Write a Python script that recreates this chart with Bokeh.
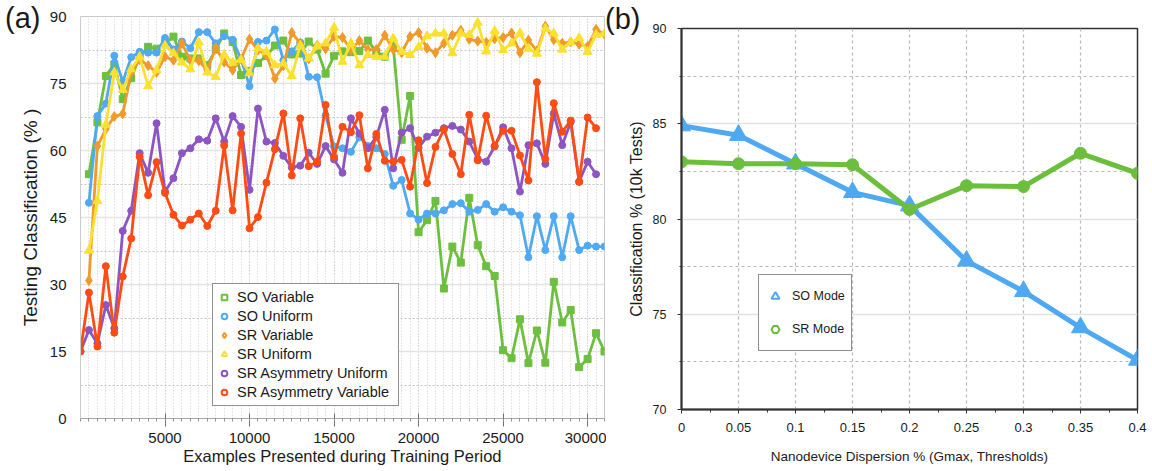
from bokeh.plotting import figure
from bokeh.layouts import row, column
from bokeh.models import Range1d, FixedTicker, Legend, LegendItem, Div
from bokeh.embed import file_html
from bokeh.resources import INLINE

FONT = "Liberation Sans"
TXT = "#1a1a1a"

# ---------------- Panel (a) data ----------------
x_asym = [500 * k for k in range(62)]        # 0 ... 30500
x_main = [500 * k for k in range(1, 63)]     # 500 ... 31000

so_variable = [54.7, 66.3, 76.7, 79.3, 71.5, 76.2, 81.0, 83.2, 82.8, 84.0,
               85.5, 81.0, 80.6, 80.6, 79.1, 82.6, 86.2, 84.3, 76.9, 77.8,
               79.6, 81.2, 83.5, 84.6, 81.5, 81.7, 84.4, 82.6, 77.2, 81.2,
               82.2, 82.0, 82.3, 84.6, 82.1, 81.0, 83.6, 62.4, 72.2, 41.7,
               44.4, 48.7, 29.1, 38.5, 34.9, 49.4, 38.8, 34.1, 31.9, 15.3,
               13.5, 22.2, 12.4, 19.7, 12.5, 30.6, 21.5, 24.3, 11.5, 13.3,
               19.1, 15.0]
so_uniform = [48.3, 67.7, 70.5, 81.2, 75.4, 80.9, 82.1, 81.9, 81.9, 85.2,
              82.6, 84.4, 82.9, 86.5, 86.5, 84.0, 85.6, 84.8, 80.4, 74.4,
              84.3, 84.6, 87.1, 80.2, 82.2, 84.2, 76.5, 76.4, 67.9, 60.9,
              60.5, 59.7, 63.0, 61.0, 60.5, 59.2, 52.1, 53.4, 45.9, 44.5,
              45.9, 45.9, 46.6, 48.0, 48.2, 46.3, 46.7, 48.0, 46.3, 47.3,
              46.3, 45.5, 36.1, 45.3, 37.7, 45.3, 36.1, 45.3, 37.7, 38.7,
              38.5, 38.5]
sr_variable = [30.9, 61.0, 64.8, 67.6, 68.2, 77.5, 80.4, 79.0, 77.5, 81.0,
               80.2, 84.0, 80.2, 80.1, 78.0, 83.0, 79.8, 78.0, 80.5, 84.9,
               82.5, 81.4, 76.1, 79.0, 86.4, 84.0, 80.5, 83.5, 82.8, 85.5,
               85.3, 82.5, 84.6, 82.6, 82.6, 85.8, 82.6, 81.9, 85.5, 86.4,
               82.9, 81.9, 84.0, 85.8, 86.9, 84.9, 84.5, 84.2, 85.0, 85.3,
               86.3, 81.9, 84.7, 82.3, 87.8, 84.8, 84.0, 84.3, 83.8, 83.3,
               87.1, 86.0]
sr_uniform = [37.6, 48.7, 65.8, 77.5, 73.6, 78.2, 81.0, 74.4, 78.0, 83.5,
              81.8, 79.7, 78.2, 84.2, 77.5, 76.5, 81.4, 79.7, 80.3, 77.3,
              82.9, 82.1, 79.1, 79.5, 76.7, 83.5, 80.6, 83.3, 84.0, 87.5,
              79.9, 84.0, 79.1, 81.4, 81.0, 81.0, 85.1, 82.1, 81.4, 83.2,
              85.6, 86.2, 86.2, 81.8, 86.2, 85.9, 88.6, 82.2, 86.8, 82.5,
              84.0, 86.3, 82.8, 81.7, 87.3, 86.2, 82.6, 84.2, 85.2, 82.1,
              85.9, 86.2]
sr_asym_uniform = [15.0, 19.8, 16.8, 25.4, 20.2, 42.0, 46.5, 59.4, 55.0, 66.1,
                   50.8, 53.8, 59.4, 60.5, 62.5, 62.2, 67.2, 62.0, 67.7, 65.3,
                   51.2, 69.4, 62.0, 61.7, 58.8, 56.2, 56.6, 59.5, 57.0, 61.0,
                   58.0, 55.0, 67.2, 63.8, 60.5, 63.0, 69.1, 56.0, 64.0, 65.0,
                   60.6, 63.1, 64.0, 65.0, 65.5, 64.7, 62.0, 58.1, 57.5, 60.9,
                   65.2, 60.5, 50.8, 61.2, 61.6, 57.0, 68.3, 61.2, 66.4, 53.0,
                   57.5, 54.7]
sr_asym_variable = [15.0, 28.2, 16.1, 34.1, 19.2, 31.8, 40.3, 58.6, 50.0, 57.4,
                    50.5, 45.6, 43.2, 44.5, 45.9, 43.1, 46.5, 61.1, 46.6, 63.8,
                    42.6, 45.1, 52.8, 60.3, 68.3, 54.4, 67.2, 56.5, 57.5, 70.2,
                    58.6, 65.3, 64.1, 67.9, 56.0, 63.7, 57.7, 57.5, 57.9, 51.9,
                    62.3, 52.7, 60.8, 64.7, 59.2, 54.7, 68.0, 57.8, 67.8, 61.0,
                    64.4, 64.4, 58.9, 53.3, 75.3, 58.1, 70.6, 64.2, 66.7, 53.0,
                    67.4, 65.0]

a_y_ticks = [0, 15, 30, 45, 60, 75, 90]
a_x_ticks = [5000, 10000, 15000, 20000, 25000, 30000]

# ---------------- Panel (b) data ----------------
dispersion = [0, 0.05, 0.1, 0.15, 0.2, 0.25, 0.3, 0.35, 0.4]
so_mode = [84.9, 84.4, 82.9, 81.4, 80.7, 77.8, 76.2, 74.3, 72.6]
sr_mode = [83.0, 82.9, 82.9, 82.85, 80.5, 81.75, 81.7, 83.45, 82.4]
b_x_labels = ["0", "0.05", "0.1", "0.15", "0.2", "0.25", "0.3", "0.35", "0.4"]
b_y_ticks = [70, 75, 80, 85, 90]

GREEN = "#6dbf3f"
BLUE = "#4fa9f3"
ORANGE = "#f09a2c"
YELLOW = "#fbe12f"
PURPLE = "#8c55c2"
RED = "#ff4b14"


def style_text(ax, tick_size, title_size):
    ax.major_label_text_font = FONT
    ax.major_label_text_font_size = tick_size
    ax.major_label_text_color = TXT
    ax.axis_label_text_font = FONT
    ax.axis_label_text_font_size = title_size
    ax.axis_label_text_font_style = "normal"
    ax.axis_label_text_color = TXT


# ================= Panel (a) =================
p1 = figure(width=606, height=471, x_range=Range1d(0, 31000), y_range=Range1d(0, 90),
            output_backend="svg", toolbar_location=None,
            min_border_left=80, min_border_right=2, min_border_top=16, min_border_bottom=53)
p1.outline_line_color = "#c9c9c9"

xt = FixedTicker(ticks=a_x_ticks, minor_ticks=[500 * k for k in range(63)])
yt = FixedTicker(ticks=a_y_ticks, minor_ticks=[7.5, 22.5, 37.5, 52.5, 67.5, 82.5])
p1.xaxis.ticker = xt
p1.yaxis.ticker = yt
p1.xgrid.ticker = xt
p1.ygrid.ticker = yt

p1.xgrid.grid_line_color = "#cdcdcd"
p1.xgrid.grid_line_dash = "1 2"
p1.xgrid.minor_grid_line_color = "#cdcdcd"
p1.xgrid.minor_grid_line_dash = "1 2"
p1.ygrid.grid_line_color = "#e4e4e4"
p1.ygrid.grid_line_width = 1.5
p1.ygrid.minor_grid_line_color = "#c4c4c4"
p1.ygrid.minor_grid_line_dash = "2 2"

xa = p1.xaxis[0]
xa.axis_label = "Examples Presented during Training Period"
style_text(xa, "15px", "16.5px")
xa.axis_line_color = "#a8a8a8"
xa.major_tick_line_color = "#707070"
xa.minor_tick_line_color = "#909090"
xa.major_tick_in = 5
xa.major_tick_out = 8
xa.minor_tick_in = 0
xa.minor_tick_out = 3
xa.major_label_standoff = 6
xa.axis_label_standoff = 1

ya = p1.yaxis[0]
ya.axis_label = "Testing Classification (% )"
style_text(ya, "15px", "19px")
ya.axis_line_color = "#cccccc"
ya.major_tick_in = 0
ya.major_tick_out = 0
ya.minor_tick_in = 0
ya.minor_tick_out = 0
ya.major_label_standoff = 14
ya.axis_label_standoff = 6

LW = 2.8
series_a = [
    (x_main, so_variable, GREEN, "square", 7),
    (x_main, so_uniform, BLUE, "circle", 7),
    (x_main, sr_variable, ORANGE, "diamond", 10),
    (x_main, sr_uniform, YELLOW, "triangle", 9),
    (x_asym, sr_asym_uniform, PURPLE, "circle", 7),
    (x_asym, sr_asym_variable, RED, "circle", 7),
]
for xs, ys, col, mk, sz in series_a:
    p1.line(xs, ys, line_color=col, line_width=LW)
    p1.scatter(xs, ys, marker=mk, size=sz, fill_color=col, line_color=col)

legend_a_names = ["SO Variable", "SO Uniform", "SR Variable", "SR Uniform",
                  "SR Asymmetry Uniform", "SR Asymmetry Variable"]
items_a = []
for (xs, ys, col, mk, sz), name in zip(series_a, legend_a_names):
    # off-range proxy point: only used for the hollow legend glyph
    d = p1.scatter([-1e7], [-1e7], marker=mk, size=min(sz, 9), fill_color="white",
                   line_color=col, line_width=2)
    items_a.append(LegendItem(label=name, renderers=[d]))
leg_a = Legend(items=items_a, location=(132, 12), orientation="vertical")
leg_a.label_text_font = FONT
leg_a.label_text_font_size = "14.5px"
leg_a.label_text_color = TXT
leg_a.glyph_width = 14
leg_a.glyph_height = 18
leg_a.label_height = 18
leg_a.label_width = 157
leg_a.spacing = 1
leg_a.padding = 4
leg_a.margin = 0
leg_a.label_standoff = 6
leg_a.border_line_color = "#222222"
leg_a.border_line_width = 1
leg_a.background_fill_color = "white"
leg_a.background_fill_alpha = 1
p1.add_layout(leg_a, "center")

# ================= Panel (b) =================
p2 = figure(width=544, height=471, x_range=Range1d(0, 0.4), y_range=Range1d(70, 90),
            output_backend="svg", toolbar_location=None,
            min_border_left=75, min_border_right=13, min_border_top=28, min_border_bottom=62)
p2.outline_line_color = "#333333"
p2.outline_line_width = 1.5

bxt = FixedTicker(ticks=dispersion, minor_ticks=[0.025 * k for k in range(17)])
byt = FixedTicker(ticks=b_y_ticks, minor_ticks=[72.5, 77.5, 82.5, 87.5])
p2.xaxis.ticker = bxt
p2.yaxis.ticker = byt
p2.xgrid.ticker = bxt
p2.ygrid.ticker = byt
p2.xgrid.grid_line_color = "#b8b8b8"
p2.xgrid.grid_line_dash = "3 3"
p2.xgrid.grid_line_width = 1.2
p2.ygrid.grid_line_color = "#e2e2e2"
p2.ygrid.grid_line_width = 1.3
p2.ygrid.minor_grid_line_color = "#b8b8b8"
p2.ygrid.minor_grid_line_dash = "3 3"
p2.ygrid.minor_grid_line_width = 1.2

bxa = p2.xaxis[0]
bxa.axis_label = "Nanodevice Dispersion % (Gmax, Thresholds)"
style_text(bxa, "13px", "13.5px")
bxa.major_label_overrides = {t: s for t, s in zip(dispersion, b_x_labels)}
bxa.axis_line_color = "#333333"
bxa.axis_line_width = 2
bxa.major_tick_line_color = "#333333"
bxa.minor_tick_line_color = "#333333"
bxa.major_tick_in = 0
bxa.major_tick_out = 4
bxa.minor_tick_in = 0
bxa.minor_tick_out = 3
bxa.major_label_standoff = 9
bxa.axis_label_standoff = 14

bya = p2.yaxis[0]
bya.axis_label = "Classification % (10k Tests)"
style_text(bya, "12.5px", "16px")
bya.axis_line_color = "#333333"
bya.axis_line_width = 2
bya.major_tick_line_color = "#333333"
bya.minor_tick_line_color = "#333333"
bya.major_tick_in = 0
bya.major_tick_out = 4
bya.minor_tick_in = 0
bya.minor_tick_out = 2
bya.major_label_standoff = 11
bya.axis_label_standoff = 5

B_BLUE = "#4ea8f2"
B_GREEN = "#6cbe3d"
p2.line(dispersion, so_mode, line_color=B_BLUE, line_width=5)
p2.scatter(dispersion, so_mode, marker="triangle", size=18, fill_color=B_BLUE, line_color=B_BLUE)
p2.line(dispersion, sr_mode, line_color=B_GREEN, line_width=5)
p2.scatter(dispersion, sr_mode, marker="circle", size=12, fill_color=B_GREEN, line_color=B_GREEN)

d1 = p2.scatter([-10], [0], marker="triangle", size=10, fill_color="white", line_color=B_BLUE, line_width=2)
d2 = p2.scatter([-10], [0], marker="hex", size=10, fill_color="white", line_color=B_GREEN, line_width=2)
leg_b = Legend(items=[LegendItem(label="SO Mode", renderers=[d1]),
                      LegendItem(label="SR Mode", renderers=[d2])],
               location=(77, 58), orientation="vertical")
leg_b.label_text_font = FONT
leg_b.label_text_font_size = "12.5px"
leg_b.label_text_color = TXT
leg_b.glyph_width = 20
leg_b.glyph_height = 30
leg_b.label_height = 30
leg_b.spacing = 3
leg_b.padding = 6
leg_b.margin = 0
leg_b.label_standoff = 7
leg_b.border_line_color = "#222222"
leg_b.border_line_width = 1.2
leg_b.background_fill_alpha = 1
p2.add_layout(leg_b, "center")

# ---------------- panel letters (overlaid, outside the plot frames) ----------------
def panel_letter(txt, left, top):
    return Div(text=txt, width=48, height=36, margin=0,
               styles={"position": "absolute", "left": f"{left}px", "top": f"{top}px",
                       "font-family": FONT, "font-size": "29px", "line-height": "1",
                       "color": TXT, "z-index": "10", "white-space": "nowrap"})

div_a = panel_letter("(a)", 5, 4)
div_b = panel_letter("(b)", 605, 5)

layout = row(column(p1), column(p2))
open("out.html", "w").write(file_html([layout, div_a, div_b], INLINE))
